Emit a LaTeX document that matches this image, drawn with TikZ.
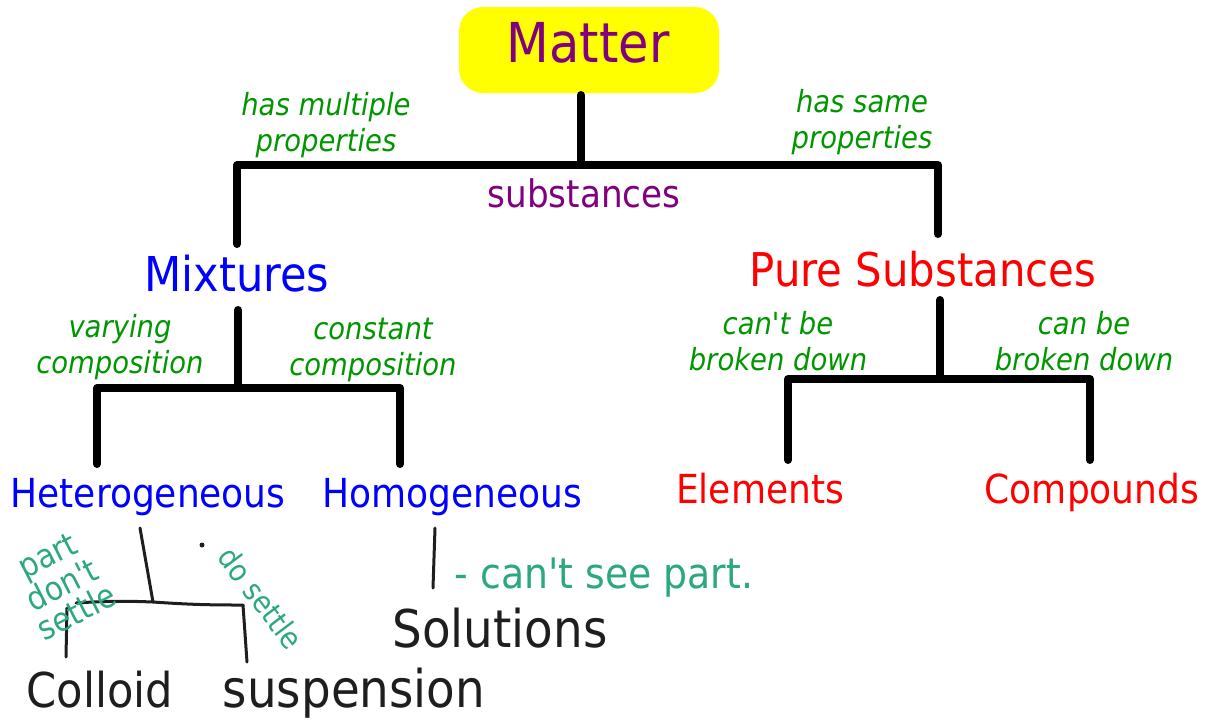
\documentclass[tikz,border=0pt]{standalone}
\usepackage{fontspec}
\setmainfont{DejaVu Sans Condensed}
\definecolor{lblgreen}{RGB}{0,150,0}
\definecolor{hwgreen}{RGB}{44,168,128}
\definecolor{mpurple}{RGB}{128,0,128}
\definecolor{mblue}{RGB}{0,0,255}
\definecolor{mred}{RGB}{255,0,0}
\definecolor{myellow}{RGB}{255,255,0}
\definecolor{hwblack}{RGB}{30,30,30}
\begin{document}
\begin{tikzpicture}[x=1pt,y=-1pt,
  tree/.style={line width=8pt,line cap=round,line join=round,black},
  hand/.style={line width=3pt,line cap=round,line join=round,hwblack},
  lbl/.style={text=lblgreen,font=\fontsize{30.5}{36}\selectfont\itshape,align=center,inner sep=0pt},
  title/.style={inner sep=0pt,anchor=base},
  hw/.style={inner sep=0pt,text=hwblack,font=\fontsize{48}{52}\selectfont},
  hwg/.style={inner sep=0pt,text=hwgreen,align=center},
]
\useasboundingbox (0,0) rectangle (1209,726);

% Matter box
\node[fill=myellow,rounded corners=24pt,minimum width=260pt,minimum height=86pt,inner sep=0pt] (matterbox) at (589,50) {};
\node[title,text=mpurple,font=\fontsize{55}{60}\selectfont] (matter) at (588,62) {Matter};

% level 1
\node[title,text=mpurple,font=\fontsize{38}{44}\selectfont] (subst) at (584,207) {substances};
\node[title,text=mblue,font=\fontsize{48}{52}\selectfont] (mixtures) at (237,291) {Mixtures};
\node[title,text=mred,font=\fontsize{46.5}{52}\selectfont] (pure) at (923,286) {Pure Substances};

\node[lbl] (l1) at (326,125) {has multiple\\properties};
\node[lbl] (l2) at (862,122) {has same\\properties};

% level 2
\node[title,text=mblue,font=\fontsize{40}{44}\selectfont] (hetero) at (148,507) {Heterogeneous};
\node[title,text=mblue,font=\fontsize{40}{44}\selectfont] (homo) at (452,507) {Homogeneous};
\node[title,text=mred,font=\fontsize{40}{44}\selectfont] (elem) at (760,503) {Elements};
\node[title,text=mred,font=\fontsize{40}{44}\selectfont] (comp) at (1092,503) {Compounds};

\node[lbl] (l3) at (120,347) {varying\\composition};
\node[lbl] (l4) at (373,350) {constant\\composition};
\node[lbl] (l5) at (778,341) {can\textquotesingle t be\\broken down};
\node[lbl] (l6) at (1084,341) {can be\\broken down};

% tree connectors
\coordinate (a1) at (581,95);
\coordinate (a2) at (581,165);
\coordinate (aL) at (237,165);
\coordinate (aLe) at (237,244);
\coordinate (aR) at (938,165);
\coordinate (aRe) at (938,234);
\draw[tree] (a1) -- (a2);
\draw[tree] (aLe) -- (aL) -- (aR) -- (aRe);

\coordinate (b1) at (238,310);
\coordinate (b2) at (238,388);
\coordinate (bL) at (97,388);
\coordinate (bLe) at (97,464);
\coordinate (bR) at (400,388);
\coordinate (bRe) at (400,464);
\draw[tree] (b1) -- (b2);
\draw[tree] (bLe) -- (bL) -- (bR) -- (bRe);

\coordinate (c1) at (940,300);
\coordinate (c2) at (940,379);
\coordinate (cL) at (788,379);
\coordinate (cLe) at (788,460);
\coordinate (cR) at (1090,379);
\coordinate (cRe) at (1090,460);
\draw[tree] (c1) -- (c2);
\draw[tree] (cLe) -- (cL) -- (cR) -- (cRe);

% handwritten part
\coordinate (h1) at (140,528);
\coordinate (h2) at (153,602);
\coordinate (hL) at (76,603);
\coordinate (hR) at (243,605);
\coordinate (hLs) at (67,608);
\coordinate (hLe) at (66,657);
\coordinate (hRe) at (247,662);
\draw[hand] (h1) -- (h2);
\draw[hand] (hL) to[bend left=3] (h2) to[bend right=2] (hR);
\draw[hand] (hLs) -- (hLe);
\draw[hand] (hR) -- (hRe);
\fill[hwblack] (202,545) circle (2.5pt);

\coordinate (s1) at (435,528);
\coordinate (s2) at (433,588);
\draw[hand] (s1) -- (s2);

\node[hw] (colloid) at (100,690) {Colloid};
\node[hw,font=\fontsize{52}{52}\selectfont] (susp) at (354,693) {suspension};
\node[hw,font=\fontsize{52}{52}\selectfont] (sol) at (500,628) {Solutions};

\node[hwg,font=\fontsize{42}{44}\selectfont] (cantsee) at (604,578) {- can\textquotesingle t see part.};
\node[hwg,font=\fontsize{33}{31}\selectfont,rotate=27] (part) at (62,584) {part\\don\textquotesingle t\\settle};
\node[hwg,font=\fontsize{30}{30}\selectfont,rotate=-53] (dosettle) at (261,598) {do settle};
\end{tikzpicture}
\end{document}
